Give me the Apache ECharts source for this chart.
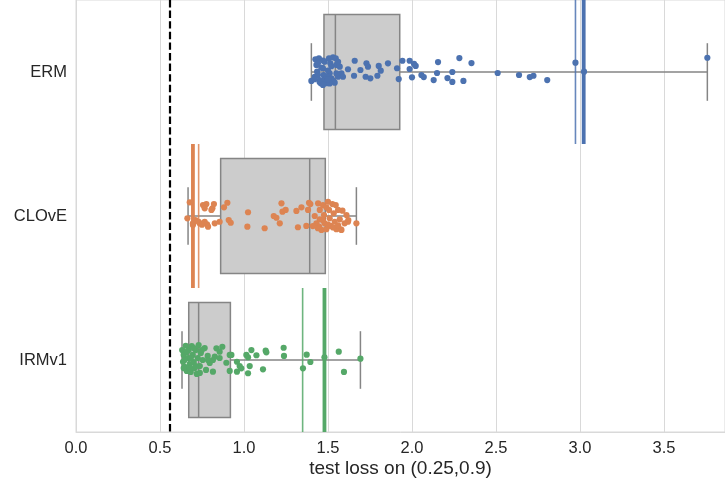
<!DOCTYPE html>
<html>
<head>
<meta charset="utf-8">
<script src="https://cdn.jsdelivr.net/npm/echarts@6/dist/echarts.min.js"></script>
<style>html,body{margin:0;padding:0;background:#fff}#c{width:725px;height:484px}</style>
</head>
<body>
<div id="c"></div>
<script>
// ---- data ----
const categories = ['ERM', 'CLOvE', 'IRMv1'];
const xTicks = [0.0, 0.5, 1.0, 1.5, 2.0, 2.5, 3.0, 3.5];
const xLabel = 'test loss on (0.25,0.9)';
const baselineLoss = 0.558;

const boxWhiskerLow = [1.401, 0.667, 0.631];
const boxQ1 = [1.476, 0.861, 0.671];
const boxMedian = [1.544, 1.391, 0.730];
const boxQ3 = [1.927, 1.484, 0.919];
const boxWhiskerHigh = [3.758, 1.669, 1.693];

const thickLine = [3.022, 0.696, 1.479];
const thinLine = [2.973, 0.730, 1.349];

// strip points: loss values and the vertical jitter (band units)
const ermLoss = [1.401,1.425,1.446,1.431,1.435,1.421,1.451,1.457,1.470,1.474,1.480,1.490,1.506,1.514,1.510,1.520,1.530,1.546,1.550,1.540,1.570,1.560,1.580,1.589,1.619,1.659,1.655,1.693,1.729,1.724,1.752,1.738,1.802,1.814,1.794,1.857,1.911,1.921,1.943,1.986,1.986,2.000,2.012,2.022,2.056,2.070,2.129,2.155,2.149,2.211,2.240,2.240,2.282,2.306,2.354,2.510,2.637,2.701,2.723,2.805,2.973,3.024,3.758,
  1.44,1.46,1.48,1.50,1.45,1.47,1.49,1.52,1.53,1.44,1.51,1.55,1.42,1.47,1.56,1.50];
const ermJitter = [0.062,-0.088,-0.095,-0.049,-0.002,0.033,0.056,0.078,-0.026,0.021,-0.072,0.078,-0.095,-0.060,0.009,0.044,-0.102,-0.095,-0.049,0.074,-0.037,0.033,0.009,0.033,-0.019,-0.078,0.026,-0.014,-0.060,0.033,0.044,-0.037,-0.042,-0.009,0.026,-0.060,-0.026,0.049,-0.078,-0.078,-0.021,0.037,-0.056,-0.042,0.021,0.035,0.056,-0.069,0.007,0.042,0.0,0.069,-0.097,0.062,-0.062,0.007,0.021,0.035,0.026,0.056,-0.065,-0.002,-0.099,
  0.02,-0.03,0.05,-0.01,0.07,-0.08,0.03,-0.04,0.06,-0.06,0.08,0.01,0.05,0.09,-0.07,0.05];

const cloveLoss = [0.677,0.663,0.696,0.711,0.736,0.756,0.766,0.776,0.780,0.812,0.821,0.826,0.855,0.881,0.901,0.909,0.921,1.024,1.020,1.123,1.177,1.193,1.223,1.213,1.229,1.248,1.312,1.321,1.342,1.371,1.381,1.387,
  0.696,0.786,0.766,0.806,0.730,0.750,
  1.395,1.421,1.431,1.441,1.451,1.451,1.447,1.461,1.470,1.476,1.480,1.490,1.500,1.506,1.510,1.516,1.526,1.534,1.540,1.546,1.550,1.560,1.570,1.576,1.586,1.599,1.610,1.621,1.669,1.580,1.619,
  1.47,1.50,1.53,1.44,1.49,1.56,1.41];
const cloveJitter = [-0.095,0.016,0.051,0.028,0.051,-0.076,0.040,-0.083,0.058,-0.053,-0.083,0.051,0.040,-0.060,-0.092,0.028,0.047,-0.026,0.074,0.085,0.0,0.012,-0.088,0.051,-0.030,-0.042,-0.035,0.078,-0.060,0.069,-0.042,-0.092,
  0.062,0.074,-0.053,-0.042,0.040,0.060,
  -0.083,0.0,0.051,-0.088,-0.042,0.023,0.074,0.097,-0.076,-0.007,0.051,0.092,-0.099,-0.042,0.016,0.069,-0.083,-0.019,0.040,-0.076,0.092,-0.042,0.023,0.092,-0.037,0.051,-0.007,0.028,0.051,0.097,0.040,
  0.03,0.06,0.08,0.085,-0.06,0.065,0.07];

const irmLoss = [0.632,0.637,0.647,0.641,0.653,0.659,0.665,0.671,0.677,0.683,0.689,0.695,0.701,0.707,0.713,0.719,0.725,0.730,0.737,0.743,0.754,0.766,0.774,0.784,0.796,0.647,0.659,0.677,0.701,0.713,0.737,0.749,0.641,0.683,
  0.786,0.815,0.826,0.836,0.855,0.871,0.855,0.815,0.915,0.925,0.895,0.915,0.958,0.958,0.974,0.984,1.014,1.024,1.034,1.024,1.044,1.074,1.113,1.129,1.133,1.236,1.238,1.351,1.373,1.395,1.479,1.564,1.595,1.693];
const irmJitter = [-0.069,0.012,0.047,-0.035,-0.099,0.076,-0.014,-0.069,0.028,0.083,-0.097,-0.035,0.014,0.056,-0.069,0.097,-0.014,-0.104,0.042,-0.049,0.0,-0.083,0.069,-0.028,0.021,0.0,-0.056,0.056,-0.083,0.042,0.090,-0.069,0.056,-0.014,
  0.0,0.081,-0.023,-0.081,-0.058,-0.092,-0.014,0.0,-0.035,-0.035,0.019,0.076,0.081,0.012,0.042,0.058,-0.035,-0.019,0.042,0.092,-0.069,-0.033,0.065,-0.065,-0.053,-0.085,-0.028,0.058,-0.037,0.014,-0.019,-0.058,0.083,-0.009];

// ---- styling ----
const colors = ['#4c72b0', '#dd8452', '#55a868'];
const boxEdge = '#858585';
const boxFill = '#cccccc';
const gridGray = '#d9d9d9';
const font = 'Liberation Sans, Arial, sans-serif';

function pts(loss, jit, idx) {
  return loss.map((v, i) => [v, idx + jit[i]]);
}

const chart = echarts.init(document.getElementById('c'), null, {renderer: 'canvas'});

const boxData = categories.map((c, i) => [i, boxWhiskerLow[i], boxQ1[i], boxMedian[i], boxQ3[i], boxWhiskerHigh[i]]);

function renderBox(params, api) {
  const i = api.value(0);
  const lo = api.coord([api.value(1), i]);
  const q1 = api.coord([api.value(2), i]);
  const md = api.coord([api.value(3), i]);
  const q3 = api.coord([api.value(4), i]);
  const hi = api.coord([api.value(5), i]);
  const hb = api.size([0, 0.4])[1];
  const hc = api.size([0, 0.2])[1];
  const y = q1[1];
  const ls = {stroke: boxEdge, lineWidth: 1.5, fill: null};
  return {
    type: 'group',
    children: [
      {type: 'line', shape: {x1: lo[0], y1: y, x2: q1[0], y2: y}, style: ls},
      {type: 'line', shape: {x1: q3[0], y1: y, x2: hi[0], y2: y}, style: ls},
      {type: 'line', shape: {x1: lo[0], y1: y - hc, x2: lo[0], y2: y + hc}, style: ls},
      {type: 'line', shape: {x1: hi[0], y1: y - hc, x2: hi[0], y2: y + hc}, style: ls},
      {type: 'rect', shape: {x: q1[0], y: y - hb, width: q3[0] - q1[0], height: 2 * hb}, style: {fill: boxFill, stroke: boxEdge, lineWidth: 1.5}},
      {type: 'line', shape: {x1: md[0], y1: y - hb, x2: md[0], y2: y + hb}, style: ls}
    ]
  };
}

const vlineData = categories.map((c, i) => [i, thickLine[i], thinLine[i]]);
function renderVlines(params, api) {
  const i = api.value(0);
  const a0 = api.coord([api.value(1), i - 0.5]);
  const a1 = api.coord([api.value(1), i + 0.5]);
  const b0 = api.coord([api.value(2), i - 0.5]);
  const b1 = api.coord([api.value(2), i + 0.5]);
  const col = colors[i];
  return {
    type: 'group',
    children: [
      {type: 'line', shape: {x1: b0[0], y1: b0[1], x2: b1[0], y2: b1[1]}, style: {stroke: col, lineWidth: 1.6, opacity: 0.85}},
      {type: 'line', shape: {x1: a0[0], y1: a0[1], x2: a1[0], y2: a1[1]}, style: {stroke: col, lineWidth: 3.8}}
    ]
  };
}

const xMax = 649 / 168;

chart.setOption({
  animation: false,
  backgroundColor: '#ffffff',
  grid: {left: 76, right: 0, top: 0, bottom: 52, show: true, borderColor: gridGray, borderWidth: 1,
    backgroundColor: 'transparent', containLabel: false, outerBoundsMode: 'none'},
  xAxis: {
    type: 'value', min: 0, max: xMax, interval: 0.5,
    name: xLabel, nameLocation: 'middle', nameGap: 27, nameMoveOverlap: false,
    nameTextStyle: {fontFamily: font, fontSize: 19, color: '#262626'},
    axisLine: {show: true, onZero: false, lineStyle: {color: gridGray, width: 1}},
    axisTick: {show: false},
    axisLabel: {fontFamily: font, fontSize: 16.5, color: '#262626', margin: 8,
      formatter: v => (xTicks.some(t => Math.abs(t - v) < 1e-6) ? v.toFixed(1) : '')},
    splitLine: {show: true, lineStyle: {color: gridGray, width: 1}}
  },
  yAxis: [
    {
      type: 'category', data: categories, inverse: true,
      axisLine: {show: true, onZero: false, lineStyle: {color: gridGray}},
      axisTick: {show: false},
      axisLabel: {fontFamily: font, fontSize: 16.5, color: '#262626', margin: 9},
      splitLine: {show: false}
    },
    {
      type: 'value', min: -0.5, max: 2.5, inverse: true, show: false,
      axisLine: {show: false, onZero: false},
      splitLine: {show: false}
    }
  ],
  series: [
    {type: 'custom', yAxisIndex: 1, renderItem: renderBox, data: boxData, z: 1, silent: true,
      encode: {x: [1, 2, 3, 4, 5], y: 0}},
    {type: 'custom', yAxisIndex: 1, renderItem: renderVlines, data: vlineData, z: 2, silent: true,
      encode: {x: [1, 2], y: 0}},
    {type: 'scatter', yAxisIndex: 1, data: pts(ermLoss, ermJitter, 0), symbolSize: 6.2, itemStyle: {color: colors[0], opacity: 1}, z: 3},
    {type: 'scatter', yAxisIndex: 1, data: pts(cloveLoss, cloveJitter, 1), symbolSize: 6.2, itemStyle: {color: colors[1], opacity: 1}, z: 3},
    {type: 'scatter', yAxisIndex: 1, data: pts(irmLoss, irmJitter, 2), symbolSize: 6.2, itemStyle: {color: colors[2], opacity: 1}, z: 3,
      markLine: {silent: true, symbol: 'none', label: {show: false},
        lineStyle: {color: '#000000', width: 2.2, type: [7.4, 3.2]},
        data: [{xAxis: baselineLoss}]}}
  ]
});
</script>
</body>
</html>
